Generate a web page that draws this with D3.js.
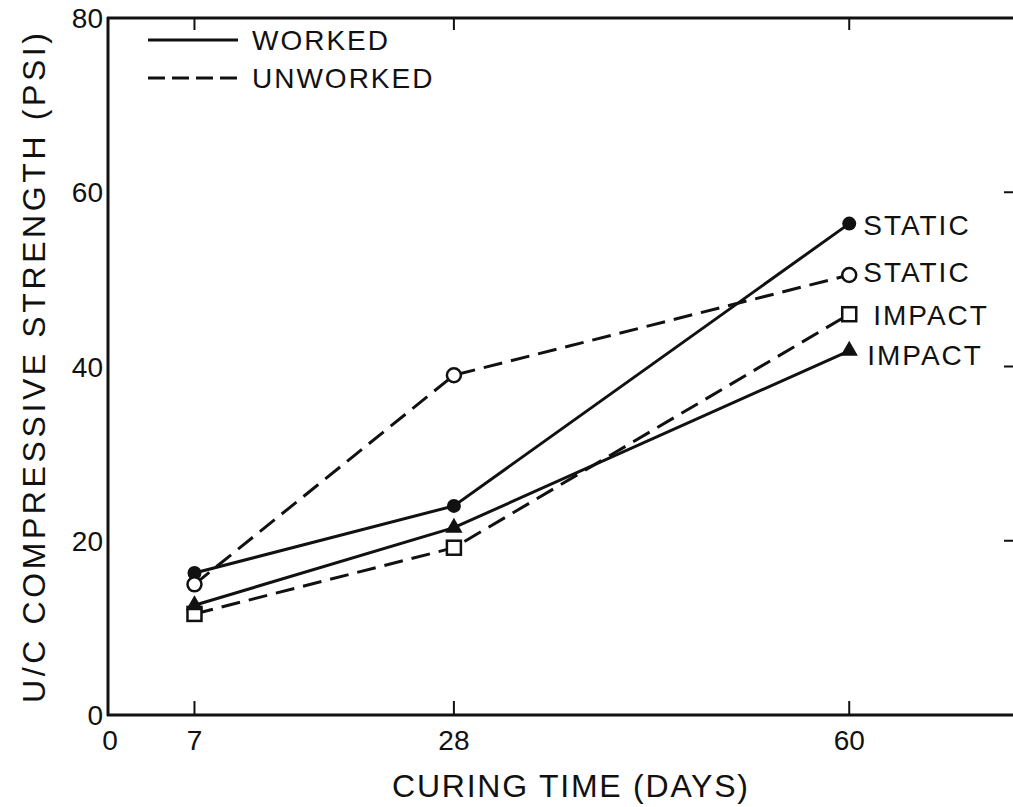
<!DOCTYPE html>
<html><head><meta charset="utf-8">
<script src="https://cdn.jsdelivr.net/npm/d3@7"></script>
<style>body{margin:0;background:#fff}svg{display:block}text{font-family:"Liberation Sans",Arial,sans-serif;fill:#111}</style>
</head><body>
<script>
const days = [7, 28, 60];
const xTicks = [0, 7, 28, 60];
const yTicks = [0, 20, 40, 60, 80];
const workedStatic = [16.3, 24.0, 56.4];
const unworkedStatic = [15.0, 39.0, 50.5];
const unworkedImpact = [11.6, 19.2, 46.0];
const workedImpact = [12.6, 21.5, 41.8];
const seriesNames = ["STATIC", "STATIC", "IMPACT", "IMPACT"];
const legendLabels = ["WORKED", "UNWORKED"];

const W = 1013, H = 807;
const svg = d3.select("body").append("svg").attr("width", W).attr("height", H);
const x = d3.scaleLinear().domain([0, 73.5]).range([108, 1016]);
const y = d3.scaleLinear().domain([0, 80]).range([715, 18]);
const ink = "#111";
const dash = "19,9";

const series = [
  {v: workedStatic, dash: null, mark: "fcircle", name: seriesNames[0], dx: 14, dy: 11},
  {v: unworkedStatic, dash: dash, mark: "ocircle", name: seriesNames[1], dx: 14, dy: 7},
  {v: unworkedImpact, dash: dash, mark: "square", name: seriesNames[2], dx: 24, dy: 11},
  {v: workedImpact, dash: null, mark: "triangle", name: seriesNames[3], dx: 18, dy: 14}
];

// frame
const g = svg.append("g");
g.append("line").attr("x1", x(0)).attr("x2", x(0)).attr("y1", y(80)-1).attr("y2", y(0)+1).attr("stroke", ink).attr("stroke-width", 3);
g.append("line").attr("x1", x(0)-1).attr("x2", x(73.5)).attr("y1", y(0)).attr("y2", y(0)).attr("stroke", ink).attr("stroke-width", 3);
g.append("line").attr("x1", x(0)-1).attr("x2", x(73.5)).attr("y1", y(80)).attr("y2", y(80)).attr("stroke", ink).attr("stroke-width", 3);
g.append("line").attr("x1", x(73.5)).attr("x2", x(73.5)).attr("y1", y(80)).attr("y2", y(0)).attr("stroke", ink).attr("stroke-width", 3);

// x ticks bottom & top (inward)
days.forEach(d => {
  g.append("line").attr("x1", x(d)).attr("x2", x(d)).attr("y1", y(0)).attr("y2", y(0)-14).attr("stroke", ink).attr("stroke-width", 2);
  g.append("line").attr("x1", x(d)).attr("x2", x(d)).attr("y1", y(80)).attr("y2", y(80)+12).attr("stroke", ink).attr("stroke-width", 2);
});
// right ticks
yTicks.slice(1, 4).forEach(t => {
  g.append("line").attr("x1", x(73.5)).attr("x2", x(73.5)-12).attr("y1", y(t)).attr("y2", y(t)).attr("stroke", ink).attr("stroke-width", 2);
});

// x tick labels
g.selectAll(".xt").data(xTicks).enter().append("text")
  .attr("x", d => x(d) + (d === 0 ? 2 : 0)).attr("y", y(0)+35).attr("text-anchor", "middle")
  .attr("font-size", 28).text(d => d);
// y tick labels
g.selectAll(".yt").data(yTicks).enter().append("text")
  .attr("x", x(0)-5).attr("y", d => y(d)+10).attr("text-anchor", "end")
  .attr("font-size", 28).text(d => d);

// axis titles (centred on the plot area)
svg.append("text").attr("x", 392).attr("y", 797)
  .attr("font-size", 32).attr("textLength", 356).attr("lengthAdjust", "spacing").text("CURING TIME (DAYS)");
svg.append("text").attr("transform", "translate(45,703) rotate(-90)")
  .attr("font-size", 32).attr("textLength", 670).attr("lengthAdjust", "spacing").text("U/C COMPRESSIVE  STRENGTH (PSI)");

// legend
[[null, 40], [dash, 78]].forEach((s, i) => {
  svg.append("line").attr("x1", 148).attr("x2", 238).attr("y1", s[1]).attr("y2", s[1])
    .attr("stroke", ink).attr("stroke-width", 3).attr("stroke-dasharray", s[0] ? "17,7" : null);
  svg.append("text").attr("x", 252).attr("y", s[1]+10).attr("font-size", 28).attr("letter-spacing", 2).text(legendLabels[i]);
});

// lines
const line = d3.line().x((d, i) => x(days[i])).y(d => y(d));
series.forEach(s => {
  svg.append("path").attr("d", line(s.v)).attr("fill", "none").attr("stroke", ink)
    .attr("stroke-width", 3).attr("stroke-dasharray", s.dash);
});

// markers
series.forEach(s => {
  s.v.forEach((v, i) => {
    const cx = x(days[i]), cy = y(v);
    if (s.mark === "fcircle") svg.append("circle").attr("cx", cx).attr("cy", cy).attr("r", 7).attr("fill", ink);
    else if (s.mark === "ocircle") svg.append("circle").attr("cx", cx).attr("cy", cy).attr("r", 7).attr("fill", "#fff").attr("stroke", ink).attr("stroke-width", 2.5);
    else if (s.mark === "square") svg.append("rect").attr("x", cx-7).attr("y", cy-7).attr("width", 14).attr("height", 14).attr("fill", "#fff").attr("stroke", ink).attr("stroke-width", 2.5);
    else svg.append("path").attr("d", d3.symbol(d3.symbolTriangle, 130)()).attr("transform", `translate(${cx},${cy})`).attr("fill", ink);
  });
  const last = s.v[s.v.length-1];
  svg.append("text").attr("x", x(60)+s.dx).attr("y", y(last)+s.dy).attr("font-size", 28).attr("letter-spacing", 2).text(s.name);
});
</script>
</body></html>
